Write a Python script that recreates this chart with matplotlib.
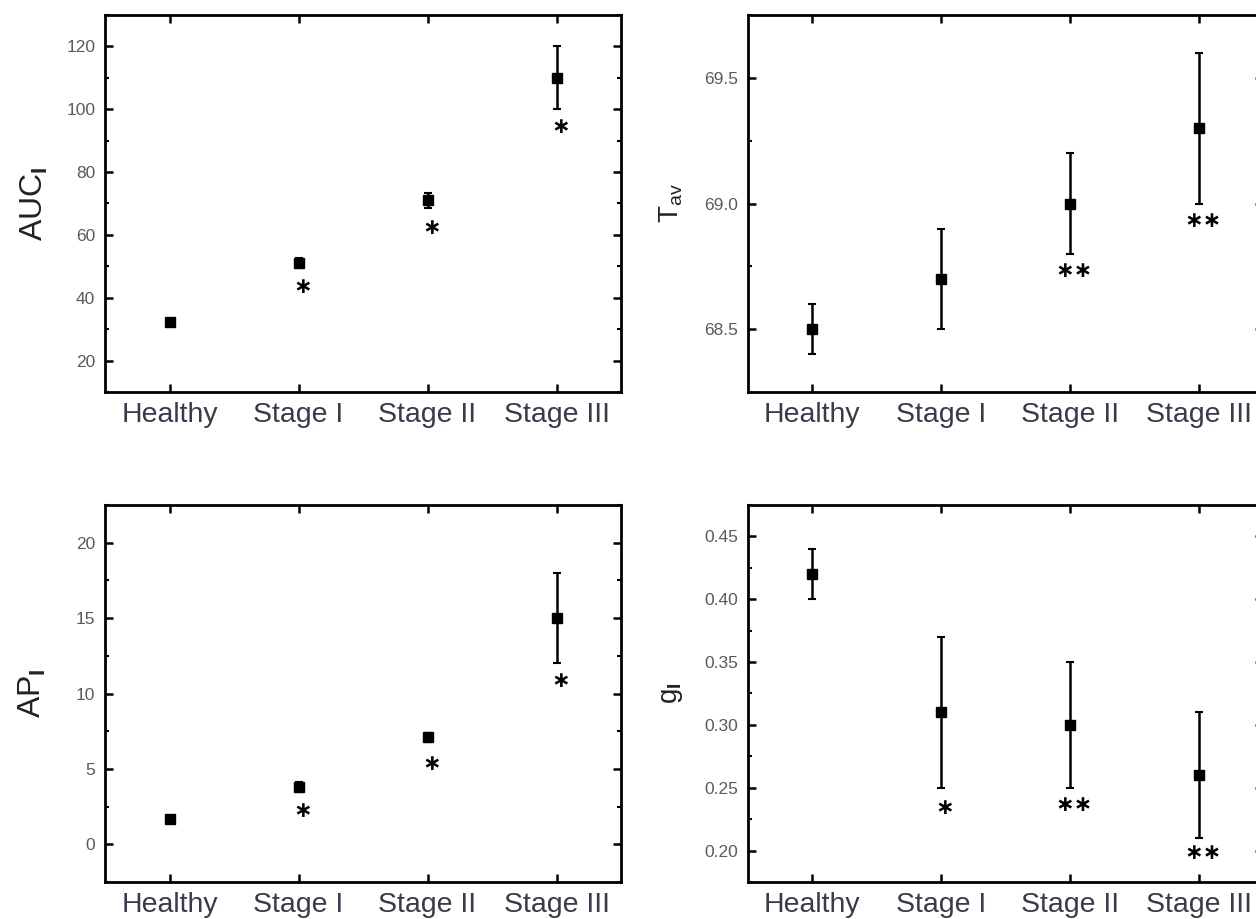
import numpy as np
import matplotlib
matplotlib.use('Agg')
import matplotlib.pyplot as plt
from matplotlib.ticker import MultipleLocator

#---------------------- DATA
groups = ['Healthy', 'Stage I', 'Stage II', 'Stage III']

auc_mean = [32.2, 51.0, 71.0, 110.0]
auc_err  = [0.8, 1.5, 2.5, 10.0]
auc_sig  = ['', '*', '*', '*']
auc_sigy = [None, 43.5, 62.3, 94.5]

tav_mean = [68.5, 68.7, 69.0, 69.3]
tav_err  = [0.1, 0.2, 0.2, 0.3]
tav_sig  = ['', '', '**', '**']
tav_sigy = [None, None, 68.73, 68.93]

ap_mean = [1.7, 3.8, 7.1, 15.0]
ap_err  = [0.15, 0.3, 0.3, 3.0]
ap_sig  = ['', '*', '*', '*']
ap_sigy = [None, 2.2, 5.3, 10.8]

g_mean = [0.42, 0.31, 0.30, 0.26]
g_err  = [0.02, 0.06, 0.05, 0.05]
g_sig  = ['', '*', '**', '**']
g_sigy = [None, 0.234, 0.236, 0.198]

panels = [
    # mean, err, sig, sigy, ylabel, ylim, major, minor, fmt, label size, labelpad
    (auc_mean, auc_err, auc_sig, auc_sigy, 'AUC$_{\\mathbf{I}}$', (10, 130), 20, 10, '%d', 23, 12),
    (tav_mean, tav_err, tav_sig, tav_sigy, 'T$_{av}$', (68.25, 69.75), 0.5, 0.25, '%.1f', 20, 14),
    (ap_mean, ap_err, ap_sig, ap_sigy, 'AP$_{\\mathbf{I}}$', (-2.5, 22.5), 5, 2.5, '%d', 23, 20),
    (g_mean, g_err, g_sig, g_sigy, 'g$_{\\mathbf{I}}$', (0.175, 0.475), 0.05, 0.025, '%.2f', 20, 14),
]

#---------------------- PLOTTING
plt.rcParams['font.family'] = ['Liberation Sans', 'DejaVu Sans']
plt.rcParams['mathtext.fontset'] = 'custom'
plt.rcParams['mathtext.rm'] = 'Liberation Sans'
plt.rcParams['mathtext.it'] = 'Liberation Sans'
plt.rcParams['mathtext.bf'] = 'Liberation Sans:bold'

fig = plt.figure(figsize=(12.56, 9.19), dpi=100)

W, H = 1256., 919.
# axes boxes in pixels: left, top, right, bottom
boxes = [(105, 15, 621, 392), (748, 15, 1263, 392),
         (105, 505, 621, 882), (748, 505, 1263, 882)]

x = np.arange(1, len(groups) + 1)
lab_col = '#3a3a4a'
tick_col = '#5a5a5a'

for i, (mean, err, sig, sigy, ylab, ylim, major, minor, fmt, lsize, lpad) in enumerate(panels):
    l, t, r, b = boxes[i]
    ax = fig.add_axes([l / W, 1 - b / H, (r - l) / W, (b - t) / H])

    ax.errorbar(x, mean, yerr=err, fmt='s', color='k', ms=7, elinewidth=1.8,
                capsize=3, capthick=1.5)

    for k in range(len(groups)):
        if sig[k]:
            ax.text(x[k] + 0.03, sigy[k], sig[k].replace('*', '\u2217'),
                    ha='center', va='center', fontsize=16, color='k',
                    family='DejaVu Sans', fontweight='bold')

    ax.set_xlim(0.5, 4.5)
    ax.set_ylim(*ylim)
    ax.set_xticks(x)
    ax.set_xticklabels(groups, fontsize=20.5, color=lab_col)
    ax.yaxis.set_major_locator(MultipleLocator(major))
    ax.yaxis.set_minor_locator(MultipleLocator(minor))
    ax.yaxis.set_major_formatter(matplotlib.ticker.FormatStrFormatter(fmt))
    for lbl in ax.get_yticklabels():
        lbl.set_color(tick_col)
        lbl.set_fontsize(12.5)

    ax.set_ylabel(ylab, fontsize=lsize, color='#222222', labelpad=lpad)

    ##-----------for beauty
    for s in ['top', 'bottom', 'left', 'right']:
        ax.spines[s].set_linewidth(2)
    ax.tick_params(which='major', direction='in', length=6, width=1.8,
                   top=True, right=True, pad=7)
    ax.tick_params(which='minor', direction='in', length=3, width=1.5,
                   right=True)
    ax.tick_params(axis='x', which='major', pad=7)

plt.savefig('out.png', dpi=100)
